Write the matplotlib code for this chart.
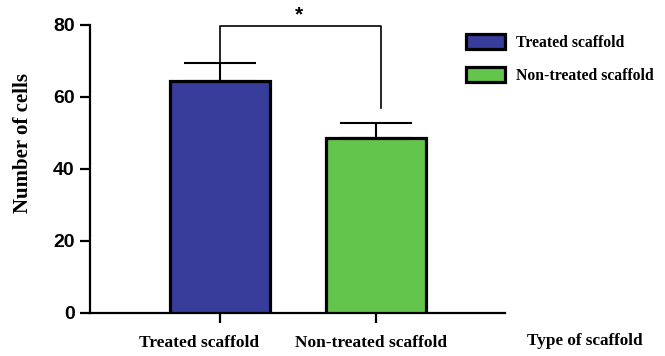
import matplotlib.pyplot as plt
import matplotlib.transforms as mtransforms
import numpy as np

# Data
categories = ['Treated scaffold', 'Non-treated scaffold']
means      = [64.4, 48.5]
errors     = [5.0, 4.3]
colors     = ['#383c9b', '#63c54c']
yticks     = [0, 20, 40, 60, 80]
bracket_y  = 79.6
bracket_ends = [69.4, 57.0]

plt.rcParams.update({'font.family': 'Liberation Sans',
                     'axes.linewidth': 1.6})
fig = plt.figure(figsize=(6.65, 3.56), dpi=100)
ax = fig.add_axes([0.1353, 0.1208, 0.6241, 0.809])

x = np.arange(len(categories))
bars = ax.bar(x, means, width=0.64, color=colors, edgecolor='k', linewidth=2.3,
              zorder=3)
ax.errorbar(x, means, yerr=[[0]*len(errors), errors], fmt='none', ecolor='k',
            elinewidth=1.5, capsize=26, capthick=1.5, zorder=2)

# significance bracket
xl, xr = x[0], x[1] + 0.03
ax.plot([xl, xl, xr, xr], [bracket_ends[0], bracket_y, bracket_y, bracket_ends[1]],
        color='k', lw=1.2, clip_on=False, zorder=2)
ax.text((xl + xr) / 2 - 0.01, bracket_y + 0.5, '*', ha='center', va='bottom',
        fontsize=15, fontweight='bold')

ax.set_xlim(-0.833, 1.827)
ax.set_ylim(0, 80)
ax.set_yticks(yticks)
ax.set_xticks(x)
ax.set_xticklabels(categories, family='Liberation Serif', fontweight='bold',
                   fontsize=12.5)
ax.tick_params(axis='y', labelsize=14, width=1.6, length=7, pad=4)
ax.tick_params(axis='x', width=1.6, length=7, pad=9)
for lab in ax.get_yticklabels():
    lab.set_fontweight('bold')
# the category labels sit a little left of their ticks in the original
for lab, dx in zip(ax.get_xticklabels(), [-21, -5]):
    lab.set_transform(lab.get_transform() +
                      mtransforms.ScaledTranslation(dx / 100, 0, fig.dpi_scale_trans))
ax.spines['top'].set_visible(False)
ax.spines['right'].set_visible(False)

ax.set_ylabel('Number of cells', family='Liberation Serif', fontweight='bold',
              fontsize=15)
ax.yaxis.set_label_coords(-0.137, 0.59)
fig.text(0.792, 0.042, 'Type of scaffold', family='Liberation Serif',
         fontweight='bold', fontsize=12.3, ha='left', va='center')

leg = fig.legend(bars, categories, loc='upper left',
                 bbox_to_anchor=(0.6795, 0.943), frameon=False,
                 prop={'family': 'Liberation Serif', 'weight': 'bold', 'size': 11.3},
                 handlelength=2.5, handleheight=1.1, labelspacing=1.0,
                 handletextpad=0.7)

plt.savefig('out.png', dpi=100)
